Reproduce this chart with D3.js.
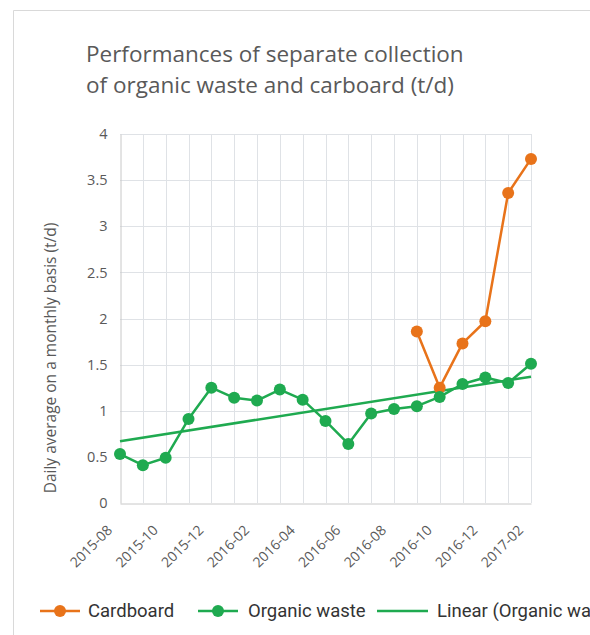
<!DOCTYPE html>
<html>
<head>
<meta charset="utf-8">
<script src="https://cdn.jsdelivr.net/npm/d3@7"></script>
<style>
  body { margin: 0; background: #fff; }
  svg { display: block; }
</style>
</head>
<body>
<svg id="chart" width="590" height="635"></svg>
<script>
//data
var months = ["2015-08","2015-09","2015-10","2015-11","2015-12","2016-01","2016-02","2016-03",
    "2016-04","2016-05","2016-06","2016-07","2016-08","2016-09","2016-10","2016-11","2016-12",
    "2017-01","2017-02"];
var organic = [0.53, 0.41, 0.49, 0.91, 1.25, 1.14, 1.11, 1.23, 1.12, 0.89, 0.64, 0.97,
    1.02, 1.05, 1.15, 1.29, 1.36, 1.30, 1.51];
var cardboard = [null, null, null, null, null, null, null, null, null, null, null, null,
    null, 1.86, 1.25, 1.73, 1.97, 3.36, 3.73];
var yTicks = [0, 0.5, 1, 1.5, 2, 2.5, 3, 3.5, 4];

var orange = "#e8731a";
var green = "#1faa50";
var textGray = "#595959";

var svg = d3.select("#chart");

//outer frame (only top and left edge visible)
svg.append("path")
    .attr("d", "M13.5,640 V10.5 H600")
    .attr("fill", "none")
    .attr("stroke", "#d9d9d9");

//title
var title = svg.append("text")
    .attr("x", 86)
    .attr("y", 62)
    .attr("fill", textGray)
    .style("font-family", "'Open Sans', sans-serif")
    .style("font-size", "22.5px");
title.append("tspan").attr("x", 86).text("Performances of separate collection");
title.append("tspan").attr("x", 86).attr("dy", 31).text("of organic waste and carboard (t/d)");

//scales
var x = d3.scalePoint()
    .domain(months)
    .range([120, 531]);
var y = d3.scaleLinear()
    .domain([0, 4])
    .range([503, 134]);

//grid
var grid = svg.append("g");
grid.selectAll(".hgrid")
    .data(yTicks.slice(1))
    .enter().append("line")
    .attr("x1", x.range()[0]).attr("x2", x.range()[1])
    .attr("y1", function(d) { return Math.round(y(d)) + 0.5; })
    .attr("y2", function(d) { return Math.round(y(d)) + 0.5; })
    .attr("stroke", "#dfe2e6");
grid.selectAll(".vgrid")
    .data(months.slice(1))
    .enter().append("line")
    .attr("x1", function(d) { return Math.round(x(d)) + 0.5; })
    .attr("x2", function(d) { return Math.round(x(d)) + 0.5; })
    .attr("y1", y(0)).attr("y2", y(4))
    .attr("stroke", "#dfe2e6");

//axes
var yAxis = d3.axisLeft(y)
    .tickValues(yTicks)
    .tickSize(0)
    .tickPadding(13)
    .tickFormat(function(d) { return d; });
var yg = svg.append("g")
    .attr("transform", "translate(120.5,0)")
    .call(yAxis);
yg.select(".domain").attr("stroke", "#c8c8c8");
yg.selectAll("text")
    .attr("fill", textGray)
    .style("font-family", "'Open Sans', sans-serif")
    .style("font-size", "14.5px");

var xAxis = d3.axisBottom(x)
    .tickValues(months.filter(function(d, i) { return i % 2 === 0; }))
    .tickSize(0)
    .tickPadding(0);
var xg = svg.append("g")
    .attr("transform", "translate(0," + (y(0) + 0.5) + ")")
    .call(xAxis);
xg.select(".domain").attr("stroke", "#c8c8c8");
xg.selectAll("text")
    .attr("fill", textGray)
    .attr("dy", 0)
    .attr("y", 0)
    .attr("transform", "translate(-10,25) rotate(-45)")
    .style("text-anchor", "end")
    .style("dominant-baseline", "middle")
    .style("font-family", "'Open Sans', sans-serif")
    .style("font-size", "14px");

//y axis title
svg.append("text")
    .attr("transform", "translate(56,358) rotate(-90)")
    .attr("text-anchor", "middle")
    .attr("fill", textGray)
    .style("font-family", "'Open Sans', sans-serif")
    .style("font-size", "15.5px")
    .text("Daily average on a monthly basis (t/d)");

//linear trend for organic waste (least squares)
var n = organic.length;
var mx = d3.mean(organic, function(d, i) { return i; });
var my = d3.mean(organic);
var sxy = d3.sum(organic, function(d, i) { return (i - mx) * (d - my); });
var sxx = d3.sum(organic, function(d, i) { return (i - mx) * (i - mx); });
var slope = sxy / sxx;
var icpt = my - slope * mx;
svg.append("line")
    .attr("x1", x(months[0])).attr("y1", y(icpt))
    .attr("x2", x(months[n - 1])).attr("y2", y(icpt + slope * (n - 1)))
    .attr("stroke", green)
    .attr("stroke-width", 2.5);

//series lines + markers
function drawSeries(values, color) {
    var pts = months.map(function(m, i) { return {m: m, v: values[i]}; })
        .filter(function(d) { return d.v !== null; });
    var line = d3.line()
        .x(function(d) { return x(d.m); })
        .y(function(d) { return y(d.v); });
    svg.append("path")
        .datum(pts)
        .attr("d", line)
        .attr("fill", "none")
        .attr("stroke", color)
        .attr("stroke-width", 2.5)
        .attr("stroke-linejoin", "round");
    svg.selectAll(null)
        .data(pts)
        .enter().append("circle")
        .attr("cx", function(d) { return x(d.m); })
        .attr("cy", function(d) { return y(d.v); })
        .attr("r", 6)
        .attr("fill", color);
}
drawSeries(cardboard, orange);
drawSeries(organic, green);

//legend
var legendItems = [
    {name: "Cardboard", color: orange, x0: 40, x1: 80, tx: 88, marker: true},
    {name: "Organic waste", color: green, x0: 198, x1: 238, tx: 248, marker: true},
    {name: "Linear (Organic waste)", color: green, x0: 377, x1: 428, tx: 437, marker: false}
];
var legend = svg.append("g").attr("class", "legend");
var item = legend.selectAll("g")
    .data(legendItems)
    .enter().append("g");
item.append("line")
    .attr("x1", function(d) { return d.x0; })
    .attr("x2", function(d) { return d.x1; })
    .attr("y1", 611).attr("y2", 611)
    .attr("stroke", function(d) { return d.color; })
    .attr("stroke-width", 2.5);
item.filter(function(d) { return d.marker; })
    .append("circle")
    .attr("cx", function(d) { return (d.x0 + d.x1) / 2; })
    .attr("cy", 611)
    .attr("r", 6)
    .attr("fill", function(d) { return d.color; });
item.append("text")
    .attr("x", function(d) { return d.tx; })
    .attr("y", 611)
    .attr("dy", "0.35em")
    .attr("fill", "#333")
    .style("font-family", "Roboto, sans-serif")
    .style("font-size", "18.5px")
    .text(function(d) { return d.name; });
</script>
</body>
</html>
